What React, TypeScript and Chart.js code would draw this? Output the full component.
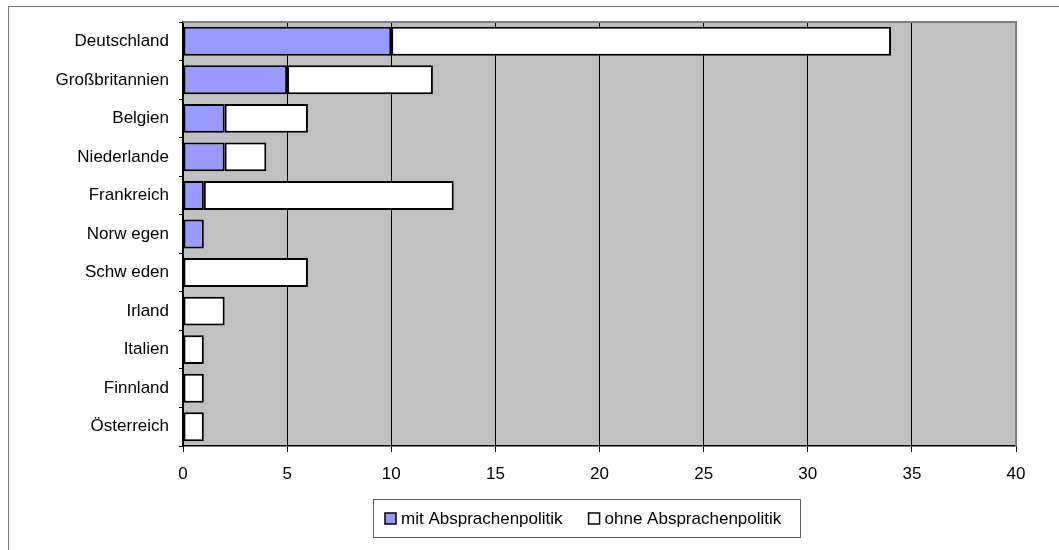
import React, { useEffect, useRef } from "react";
import { Chart, registerables } from "chart.js";

Chart.register(...registerables);

const categories = [
  "Deutschland",
  "Großbritannien",
  "Belgien",
  "Niederlande",
  "Frankreich",
  "Norw egen",
  "Schw eden",
  "Irland",
  "Italien",
  "Finnland",
  "Österreich",
];
const mitValues = [10, 5, 2, 2, 1, 1, 0, 0, 0, 0, 0];
const ohneValues = [24, 7, 4, 2, 12, 0, 6, 2, 1, 1, 1];
const seriesNames = ["mit Absprachenpolitik", "ohne Absprachenpolitik"];
const seriesColors = ["#9999FF", "#FFFFFF"];
const xMin = 0;
const xMax = 40;
const xStep = 5;

const FONT = "'Liberation Sans', Arial, sans-serif";

export default function App() {
  const ref = useRef<HTMLCanvasElement | null>(null);

  useEffect(() => {
    const canvas = ref.current;
    if (!canvas) return;

    const framePlugin = {
      id: "frame",
      beforeDraw(chart: any) {
        const { ctx, chartArea: a } = chart;
        ctx.save();
        ctx.fillStyle = "#FFFFFF";
        ctx.fillRect(0, 0, chart.width, chart.height);
        ctx.fillStyle = "#C0C0C0";
        ctx.fillRect(a.left, a.top, a.right - a.left, a.bottom - a.top);
        ctx.restore();
      },
      afterDraw(chart: any) {
        const { ctx, chartArea: a } = chart;
        ctx.save();
        // plot top / right edges
        ctx.strokeStyle = "#808080";
        ctx.lineWidth = 2;
        ctx.beginPath();
        ctx.moveTo(a.left, a.top);
        ctx.lineTo(a.right, a.top);
        ctx.lineTo(a.right, a.bottom);
        ctx.stroke();
        // outer frame
        ctx.lineWidth = 1;
        ctx.strokeStyle = "#808080";
        ctx.strokeRect(8.5, 6.5, chart.width + 50, chart.height + 50);
        // legend
        const bx = 373.5, by = 499.5, bw = 427, bh = 38;
        ctx.strokeStyle = "#606060";
        ctx.strokeRect(bx, by, bw, bh);
        ctx.font = `17px ${FONT}`;
        ctx.textBaseline = "middle";
        ctx.textAlign = "left";
        const cy = 518.5;
        let x = bx + 11.5;
        seriesNames.forEach((name, i) => {
          ctx.fillStyle = seriesColors[i];
          ctx.fillRect(x, cy - 5.5, 11, 11);
          ctx.strokeStyle = "#000000";
          ctx.lineWidth = 1.5;
          ctx.strokeRect(x, cy - 5.5, 11, 11);
          ctx.fillStyle = "#000000";
          ctx.fillText(name, x + 16, cy + 1);
          x += 16 + ctx.measureText(name).width + 26;
        });
        ctx.restore();
      },
    };

    const chart = new Chart(canvas, {
      type: "bar",
      data: {
        labels: categories,
        datasets: [
          {
            label: seriesNames[0],
            data: mitValues,
            backgroundColor: seriesColors[0],
            borderColor: "#000000",
            borderWidth: 2,
            borderSkipped: false,
            categoryPercentage: 1,
            barPercentage: 0.75,
          },
          {
            label: seriesNames[1],
            data: ohneValues,
            backgroundColor: seriesColors[1],
            borderColor: "#000000",
            borderWidth: 2,
            borderSkipped: false,
            categoryPercentage: 1,
            barPercentage: 0.75,
          },
        ],
      },
      options: {
        indexAxis: "y",
        responsive: false,
        animation: false,
        devicePixelRatio: 1,
        layout: { padding: { left: 0, top: 22, right: 43, bottom: 64 } },
        plugins: {
          legend: { display: false },
          tooltip: { enabled: false },
        },
        scales: {
          x: {
            stacked: true,
            min: xMin,
            max: xMax,
            ticks: {
              stepSize: xStep,
              color: "#000000",
              font: { family: FONT, size: 17 },
              padding: 12,
              maxRotation: 0,
            },
            grid: {
              color: "#000000",
              lineWidth: 1,
              drawTicks: true,
              tickLength: 6,
            },
            border: { color: "#000000", width: 1.5 },
            afterFit(scale: any) {
              scale.height = 40;
            },
          },
          y: {
            stacked: true,
            ticks: {
              color: "#000000",
              font: { family: FONT, size: 17 },
              padding: 10,
            },
            grid: {
              color: "#000000",
              drawOnChartArea: false,
              drawTicks: true,
              tickLength: 4,
              offset: true,
            },
            border: { color: "#000000", width: 1.5 },
            afterFit(scale: any) {
              scale.width = 183;
            },
          },
        },
      },
      plugins: [framePlugin],
    });

    return () => chart.destroy();
  }, []);

  return (
    <div style={{ position: "absolute", left: 0, top: 0, width: 1059, height: 550 }}>
      <canvas ref={ref} width={1059} height={550} />
    </div>
  );
}
